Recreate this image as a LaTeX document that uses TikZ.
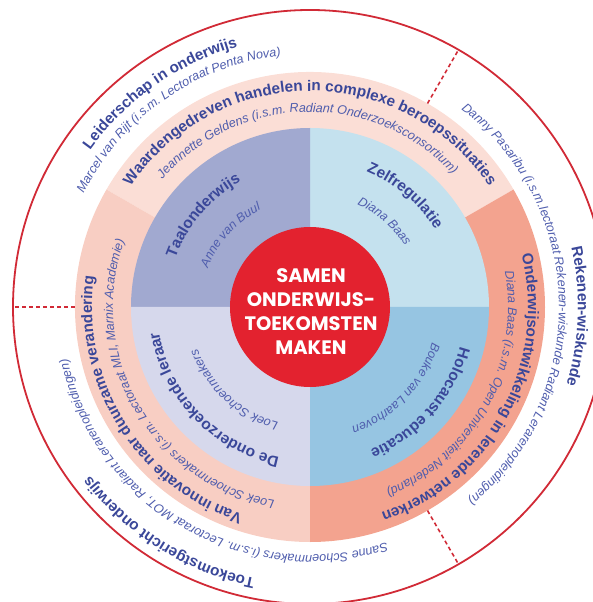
\documentclass[tikz,border=0pt]{standalone}
\usepackage{fontspec}
\setmainfont{Liberation Sans}
\newfontfamily\hubfont{Poppins}
\usetikzlibrary{decorations.text}
\definecolor{ringred}{HTML}{D12A36}
\definecolor{corered}{HTML}{E3222F}
\definecolor{headblue}{HTML}{3A4799}
\definecolor{nameblue}{HTML}{4F5DAD}
\definecolor{pinkA}{HTML}{FBDED6}
\definecolor{pinkB}{HTML}{F8CEC3}
\definecolor{salmon}{HTML}{F3A38F}
\definecolor{taal}{HTML}{A1A9D0}
\definecolor{zelf}{HTML}{C4E1EE}
\definecolor{holo}{HTML}{96C5E2}
\definecolor{leraar}{HTML}{D6D8EC}
\newcommand{\ringhead}{\bfseries\fontsize{15.3}{17}\selectfont\color{headblue}}
\newcommand{\ringname}{\itshape\fontsize{12.6}{14}\selectfont\color{nameblue}}
\newcommand{\quadhead}{\bfseries\fontsize{15.5}{18}\selectfont\color{headblue}}
\newcommand{\quadname}{\itshape\fontsize{12.5}{14}\selectfont\color{nameblue}}
\begin{document}
\begin{tikzpicture}[x=1pt, y=1pt,
    lbl/.style={decorate, decoration={text along path, text align=center, text={#1}}},
    sep/.style={draw=ringred, line width=1.6pt, dash pattern=on 4pt off 3pt},
    hub/.style={circle, fill=corered, minimum size=160pt, inner sep=0pt},
    hubtext/.style={text=white, align=center, font=\hubfont\bfseries\fontsize{19.5}{24}\selectfont}]
  \useasboundingbox (-310,-295) rectangle (282,307);
  \fill[pinkA] (0,0) -- (30:235pt) arc[start angle=30, end angle=150, radius=235pt] -- cycle;
  \fill[pinkB] (0,0) -- (150:235pt) arc[start angle=150, end angle=270, radius=235pt] -- cycle;
  \fill[salmon] (0,0) -- (270:235pt) arc[start angle=270, end angle=390, radius=235pt] -- cycle;
  \fill[zelf] (0,0) -- (0:179pt) arc[start angle=0, end angle=90, radius=179pt] -- cycle;
  \fill[taal] (0,0) -- (90:179pt) arc[start angle=90, end angle=180, radius=179pt] -- cycle;
  \fill[leraar] (0,0) -- (180:179pt) arc[start angle=180, end angle=270, radius=179pt] -- cycle;
  \fill[holo] (0,0) -- (270:179pt) arc[start angle=270, end angle=360, radius=179pt] -- cycle;
  \draw[ringred, line width=1.8pt] (0,0) circle[radius=297pt];
  \coordinate (l0) at (180:235pt);
  \coordinate (l1) at (180:297pt);
  \coordinate (r0) at (60:235pt);
  \coordinate (r1) at (60:297pt);
  \coordinate (b0) at (-60:235pt);
  \coordinate (b1) at (-60:297pt);
  \draw[sep] (l0) -- (l1);
  \draw[sep] (r0) -- (r1);
  \draw[sep] (b0) -- (b1);
  \node[hub] (core) at (0,0) {};
  \node[hubtext] (title) at (1,-5) {SAMEN\\ONDERWIJS-\\TOEKOMSTEN\\MAKEN};
  \path[lbl={|\ringhead|Leiderschap in onderwijs}] (215:270pt) arc[start angle=215, end angle=35, radius=270pt];
  \path[lbl={|\ringname|Marcel van Rijt (i.s.m. Lectoraat Penta Nova)}] (215:253pt) arc[start angle=215, end angle=35, radius=253pt];
  \path[lbl={|\ringhead|Rekenen-wiskunde}] (88:268pt) arc[start angle=88, end angle=-92, radius=268pt];
  \path[lbl={|\ringname|Danny Pasaribu (i.s.m.lectoraat Rekenen-wiskunde Radiant Lerarenopleidingen)}] (91:249pt) arc[start angle=91, end angle=-89, radius=249pt];
  \path[lbl={|\ringhead|Toekomstgericht onderwijs}] (328:277pt) arc[start angle=328, end angle=148, radius=277pt];
  \path[lbl={|\ringname|Sanne Schoenmakers (i.s.m. Lectoraat MOT, Radiant Lerarenopleidingen)}] (330:248pt) arc[start angle=330, end angle=150, radius=248pt];
  \path[lbl={|\ringhead|Waardengedreven handelen in complexe beroepssituaties}] (180:216pt) arc[start angle=180, end angle=0, radius=216pt];
  \path[lbl={|\ringname|Jeannette Geldens (i.s.m. Radiant Onderzoeksconsortium)}] (181:195pt) arc[start angle=181, end angle=1, radius=195pt];
  \path[lbl={|\ringhead|Onderwijsontwikkeling in lerende netwerken}] (61.5:218pt) arc[start angle=61.5, end angle=-118.5, radius=218pt];
  \path[lbl={|\ringname|Diana Baas (i.s.m. Open Universiteit Nederland)}] (61.5:198pt) arc[start angle=61.5, end angle=-118.5, radius=198pt];
  \path[lbl={|\ringhead|Van innovatie naar duurzame verandering}] (302:218pt) arc[start angle=302, end angle=122, radius=218pt];
  \path[lbl={|\ringname|Loek Schoenmakers (i.s.m. Lectoraat MLI, Marnix Academie)}] (300:197pt) arc[start angle=300, end angle=120, radius=197pt];
  \path[lbl={|\quadhead|Taalonderwijs}] (229.5:143pt) arc[start angle=229.5, end angle=49.5, radius=143pt];
  \path[lbl={|\quadname|Anne van Buul}] (228:109pt) arc[start angle=228, end angle=48, radius=109pt];
  \path[lbl={|\quadhead|Zelfregulatie}] (139.5:147pt) arc[start angle=139.5, end angle=-40.5, radius=147pt];
  \path[lbl={|\quadname|Diana Baas}] (139:113pt) arc[start angle=139, end angle=-41, radius=113pt];
  \path[lbl={|\quadhead|Holocaust educatie}] (49:155pt) arc[start angle=49, end angle=-131, radius=155pt];
  \path[lbl={|\quadname|Bouke van Laarhoven}] (46.5:127pt) arc[start angle=46.5, end angle=-133.5, radius=127pt];
  \path[lbl={|\quadhead|De onderzoekende leraar}] (314:153pt) arc[start angle=314, end angle=134, radius=153pt];
  \path[lbl={|\quadname|Loek Schoenmakers}] (317.5:120pt) arc[start angle=317.5, end angle=137.5, radius=120pt];
\end{tikzpicture}
\end{document}
